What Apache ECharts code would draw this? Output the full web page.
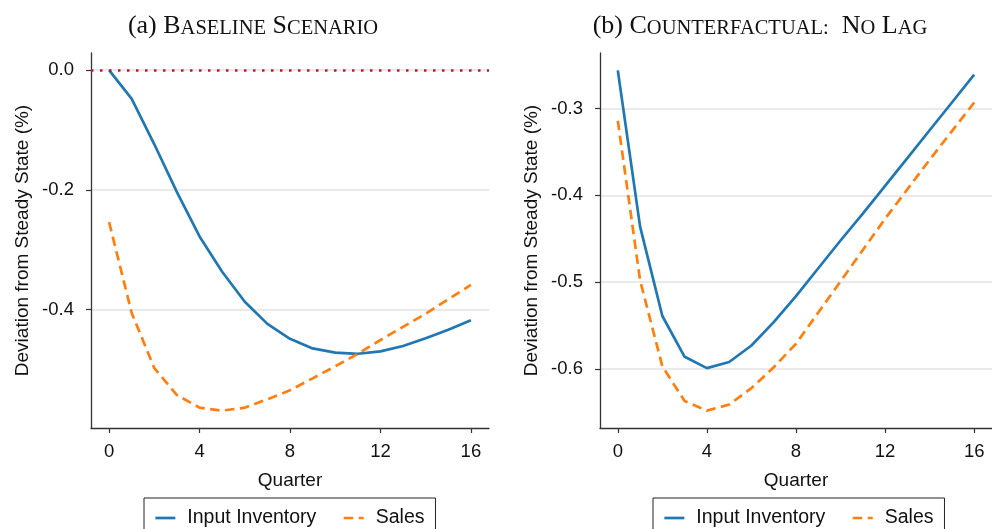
<!DOCTYPE html>
<html>
<head>
<meta charset="utf-8">
<script src="https://cdn.jsdelivr.net/npm/echarts@6/dist/echarts.min.js"></script>
<style>
  html, body { margin: 0; padding: 0; background: #ffffff; }
  #chart { width: 992px; height: 529px; }
</style>
</head>
<body>
<div id="chart"></div>
<script>
// Quarters after the shock
const quarters = [0, 1, 2, 3, 4, 5, 6, 7, 8, 9, 10, 11, 12, 13, 14, 15, 16];
const xTicks = [0, 4, 8, 12, 16];

// Panel (a): baseline scenario, deviation from steady state (%)
const baselineInventory = [0, -0.048, -0.124, -0.204, -0.278, -0.337, -0.387, -0.424, -0.449, -0.465, -0.472, -0.474, -0.470, -0.461, -0.448, -0.434, -0.418];
const baselineSales = [-0.254, -0.406, -0.498, -0.543, -0.564, -0.569, -0.564, -0.550, -0.535, -0.515, -0.495, -0.474, -0.451, -0.429, -0.407, -0.383, -0.359];
const baselineYTicks = [-0.4, -0.2, 0.0];

// Panel (b): counterfactual without the lag
const noLagInventory = [-0.256, -0.436, -0.539, -0.586, -0.599, -0.592, -0.573, -0.546, -0.516, -0.484, -0.452, -0.421, -0.389, -0.357, -0.325, -0.293, -0.261];
const noLagSales = [-0.314, -0.498, -0.597, -0.637, -0.648, -0.641, -0.622, -0.598, -0.571, -0.535, -0.499, -0.463, -0.427, -0.393, -0.359, -0.326, -0.293];
const noLagYTicks = [-0.6, -0.5, -0.4, -0.3];

const seriesNames = ['Input Inventory', 'Sales'];

const BLUE = '#1f77b4';
const ORANGE = '#ff7f0e';
const AXIS = '#333333';
const SANS = 'Liberation Sans, Arial, sans-serif';
const SERIF = 'Liberation Serif, Times New Roman, serif';

const pairs = (ys) => quarters.map((q, i) => [q, ys[i]]);

// small-caps title built from two sizes of the same serif face
function titleRich() {
  const base = { fontFamily: SERIF, fontWeight: 'normal', color: '#111', verticalAlign: 'bottom' };
  return {
    n: Object.assign({}, base, { fontSize: 26 }),
    b: Object.assign({}, base, { fontSize: 26 }),
    s: Object.assign({}, base, { fontSize: 20.5 })
  };
}

function xAxisFor(gridIndex) {
  return {
    type: 'value', gridIndex,
    min: -0.8, max: 16.8,
    name: 'Quarter', nameLocation: 'middle', nameGap: 43,
    nameTextStyle: { fontFamily: SANS, fontSize: 19, color: '#111' },
    axisLine: { show: true, onZero: false, lineStyle: { color: AXIS, width: 1.3 } },
    axisTick: { show: true, length: 5, customValues: xTicks, lineStyle: { color: AXIS, width: 1.2 } },
    axisLabel: { customValues: xTicks, margin: 14, fontFamily: SANS, fontSize: 18.5, color: '#111' },
    splitLine: { show: false }
  };
}

function yAxisFor(gridIndex, min, max, ticks) {
  return {
    type: 'value', gridIndex, min, max,
    name: 'Deviation from Steady State (%)', nameLocation: 'middle', nameGap: 59,
    nameTextStyle: { fontFamily: SANS, fontSize: 19, color: '#111' },
    axisLine: { show: true, onZero: false, lineStyle: { color: AXIS, width: 1.3 } },
    axisTick: { show: true, length: 5, customValues: ticks, lineStyle: { color: AXIS, width: 1.2 } },
    axisLabel: {
      customValues: ticks, margin: 17, fontFamily: SANS, fontSize: 18.5, color: '#111',
      formatter: (v) => v.toFixed(1)
    },
    splitLine: { show: true, lineStyle: { color: '#e3e3e3', width: 1.5 } }
  };
}

function lineSeries(name, data, idx, color, dashed) {
  return {
    name, type: 'line', xAxisIndex: idx, yAxisIndex: idx,
    data: pairs(data), symbol: 'none', smooth: false,
    lineStyle: { color, width: 2.7, type: dashed ? [9.5, 5.5] : 'solid', cap: 'butt' },
    itemStyle: { color },
    z: 3
  };
}

function legendAt(left) {
  return {
    left, top: 498, orient: 'horizontal',
    data: seriesNames,
    borderColor: '#222', borderWidth: 1, borderRadius: 0,
    padding: [10, 11, 8, 10],
    itemWidth: 20, itemHeight: 14, itemGap: 26,
    selectedMode: false,
    itemStyle: { opacity: 0 },
    lineStyle: { width: 2.7 },
    textStyle: { fontFamily: SANS, fontSize: 19.5, color: '#111', padding: [0, 0, 0, 7] }
  };
}

const chart = echarts.init(document.getElementById('chart'), null, { renderer: 'canvas' });

const baselineInvSeries = lineSeries('Input Inventory', baselineInventory, 0, BLUE, false);
baselineInvSeries.markLine = {
  silent: true, symbol: 'none', label: { show: false },
  lineStyle: { color: '#c0182f', width: 2.5, type: [2.5, 6.5] },
  data: [{ yAxis: 0 }],
  z: 4
};

chart.setOption({
  animation: false,
  backgroundColor: '#ffffff',
  title: [
    { text: '{n|(a) }{b|B}{s|ASELINE}{n| }{b|S}{s|CENARIO}', left: 248, top: 8, textAlign: 'center',
      textStyle: { rich: titleRich() } },
    { text: '{n|(b) }{b|C}{s|OUNTERFACTUAL:}{n|  }{b|N}{s|O}{n| }{b|L}{s|AG}', left: 755, top: 8, textAlign: 'center',
      textStyle: { rich: titleRich() } }
  ],
  grid: [
    { left: 91, top: 53, width: 398, height: 375 },
    { left: 600, top: 53, width: 398, height: 375 }
  ],
  xAxis: [xAxisFor(0), xAxisFor(1)],
  yAxis: [
    yAxisFor(0, -0.598, 0.0285, baselineYTicks),
    yAxisFor(1, -0.668, -0.236, noLagYTicks)
  ],
  legend: [legendAt(144), legendAt(653)],
  series: [
    baselineInvSeries,
    lineSeries('Sales', baselineSales, 0, ORANGE, true),
    lineSeries('Input Inventory', noLagInventory, 1, BLUE, false),
    lineSeries('Sales', noLagSales, 1, ORANGE, true)
  ]
});
</script>
</body>
</html>
